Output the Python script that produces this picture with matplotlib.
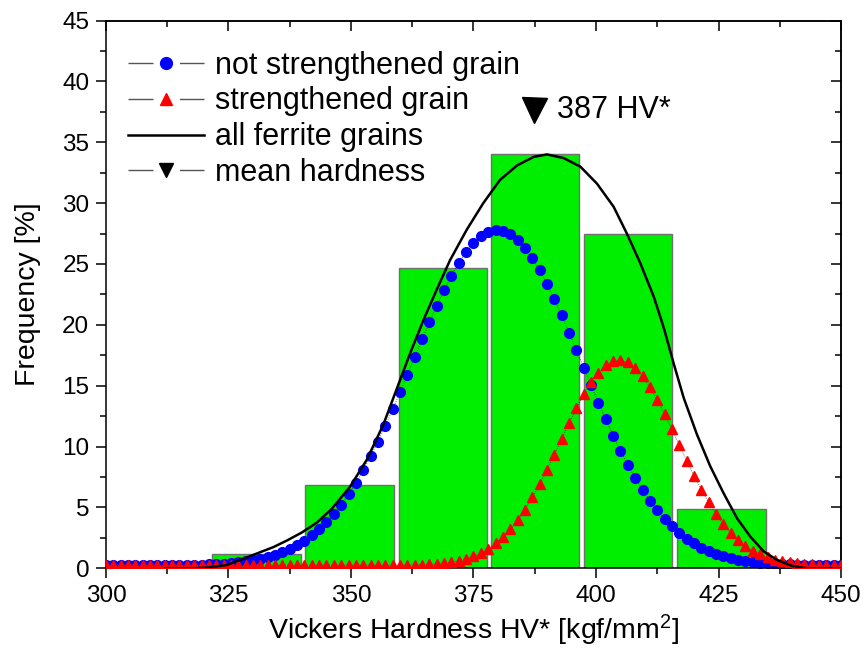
import numpy as np
import matplotlib.pyplot as plt
from matplotlib.lines import Line2D
from matplotlib.ticker import MultipleLocator, NullFormatter
from matplotlib.legend_handler import HandlerTuple

plt.rcParams['font.family'] = ['Liberation Sans', 'DejaVu Sans']
plt.rcParams['mathtext.fontset'] = 'custom'
plt.rcParams['mathtext.rm'] = 'Liberation Sans'
plt.rcParams['mathtext.it'] = 'Liberation Sans:italic'
plt.rcParams['mathtext.bf'] = 'Liberation Sans:bold'

# histogram of measured hardness
bin_centers = [330.7, 349.7, 368.7, 387.6, 406.6, 425.6]
bin_freq = [1.17, 6.84, 24.65, 34.04, 27.44, 4.87]
bin_width = 18.0

# fitted curves, sampled every 1.5 HV from 300 to 450
fit_x = np.linspace(300, 450, 101)
not_strengthened = [
    0.25, 0.25, 0.25, 0.25, 0.25, 0.25, 0.25, 0.25, 0.26, 0.26,
    0.27, 0.28, 0.30, 0.31, 0.33, 0.36, 0.39, 0.44, 0.50, 0.57,
    0.67, 0.78, 0.93, 1.11, 1.33, 1.59, 1.90, 2.28, 2.71, 3.22,
    3.81, 4.48, 5.24, 6.09, 7.03, 8.07, 9.19, 10.41, 11.69, 13.05,
    14.45, 15.89, 17.35, 18.80, 20.22, 21.58, 22.87, 24.05, 25.11, 26.01,
    26.75, 27.30, 27.65, 27.80, 27.73, 27.46, 26.99, 26.33, 25.49, 24.49,
    23.36, 22.11, 20.77, 19.37, 17.93, 16.47, 15.03, 13.60, 12.23, 10.91,
    9.67, 8.51, 7.43, 6.45, 5.57, 4.77, 4.07, 3.45, 2.91, 2.44,
    2.04, 1.71, 1.43, 1.19, 1.00, 0.84, 0.71, 0.61, 0.53, 0.46,
    0.41, 0.37, 0.34, 0.32, 0.30, 0.29, 0.28, 0.27, 0.26, 0.26,
    0.25]
strengthened = [
    0.25, 0.25, 0.25, 0.25, 0.25, 0.25, 0.25, 0.25, 0.25, 0.25,
    0.25, 0.25, 0.25, 0.25, 0.25, 0.25, 0.25, 0.25, 0.25, 0.25,
    0.25, 0.25, 0.25, 0.25, 0.25, 0.25, 0.25, 0.25, 0.25, 0.25,
    0.25, 0.25, 0.25, 0.25, 0.25, 0.25, 0.25, 0.25, 0.25, 0.25,
    0.26, 0.27, 0.29, 0.31, 0.33, 0.38, 0.44, 0.52, 0.64, 0.79,
    1.00, 1.26, 1.61, 2.04, 2.57, 3.20, 3.96, 4.83, 5.82, 6.92,
    8.10, 9.35, 10.64, 11.92, 13.15, 14.28, 15.27, 16.08, 16.67, 17.01,
    17.10, 16.91, 16.46, 15.78, 14.90, 13.84, 12.66, 11.41, 10.12, 8.85,
    7.62, 6.47, 5.41, 4.47, 3.64, 2.93, 2.34, 1.85, 1.46, 1.15,
    0.91, 0.72, 0.58, 0.48, 0.41, 0.36, 0.32, 0.30, 0.28, 0.27,
    0.26]

# all ferrite grains curve
all_x = [312.0, 318.0, 321.0, 324.6, 329.4, 334.2, 337.0, 340.0, 343.0, 346.0,
         349.8, 353.2, 356.6, 359.3, 362.1, 364.8, 367.5, 370.2, 373.6, 377.0,
         380.4, 383.9, 387.3, 390.0, 393.4, 396.8, 400.2, 403.6, 406.3, 409.0,
         411.8, 413.8, 415.8, 417.9, 420.6, 423.3, 426.0, 428.8, 431.5, 434.2,
         436.9, 440.0, 443.0, 450.0]
all_y = [0.0, 0.0, 0.08, 0.27, 1.0, 1.75, 2.3, 2.95, 3.75, 4.85,
         6.7, 8.9, 11.8, 14.7, 17.7, 20.4, 22.9, 25.3, 27.8, 30.0,
         31.9, 33.1, 33.8, 34.0, 33.7, 33.0, 31.6, 29.7, 27.5, 25.1,
         22.3, 19.8, 16.9, 14.0, 11.0, 8.4, 6.2, 4.1, 2.6, 1.4,
         0.7, 0.2, 0.0, 0.0]

mean_hv = 387.3
mean_level = 37.66
mean_label = '387 HV*'

labels = ['not strengthened grain', 'strengthened grain',
          'all ferrite grains', 'mean hardness']

fig = plt.figure(figsize=(8.68, 6.49), dpi=100)
ax = fig.add_axes([0.1221, 0.1243, 0.8468, 0.8441])

ax.bar(bin_centers, bin_freq, width=bin_width, color='#00ee00',
       edgecolor='#707070', linewidth=1.0, zorder=1)
ax.plot(fit_x, not_strengthened, ls=':', lw=0.6, color='#333333', marker='o',
        ms=7, mfc='blue', mec='blue', zorder=2)
ax.plot(fit_x, strengthened, ls=':', lw=0.6, color='#333333', marker='^',
        ms=7.5, mfc='red', mec='red', zorder=3)
ax.plot(all_x, all_y, color='black', lw=1.8, zorder=4)

ax.plot([mean_hv], [mean_level], marker='v', ms=18, color='black', ls='none', zorder=5)
ax.text(392.1, mean_level, mean_label, fontsize=22, va='center', ha='left')

ax.set_xlim(300, 450)
ax.set_ylim(0, 45)
ax.xaxis.set_major_locator(MultipleLocator(25))
ax.xaxis.set_minor_locator(MultipleLocator(12.5))
ax.yaxis.set_major_locator(MultipleLocator(5))
ax.yaxis.set_minor_locator(MultipleLocator(2.5))
ax.tick_params(which='both', direction='out', width=1.1, top=False, right=False)
ax.tick_params(which='major', length=7, labelsize=17.5)
ax.tick_params(axis='x', which='major', pad=5)
ax.tick_params(axis='y', which='major', pad=5)
ax.tick_params(which='minor', length=4)
for sp in ax.spines.values():
    sp.set_linewidth(1.1)

secx = ax.secondary_xaxis('top')
secx.xaxis.set_major_locator(MultipleLocator(25))
secx.xaxis.set_minor_locator(MultipleLocator(12.5))
secx.xaxis.set_major_formatter(NullFormatter())
secx.tick_params(which='both', direction='in', width=1.1)
secx.tick_params(which='major', length=7)
secx.tick_params(which='minor', length=4)
secy = ax.secondary_yaxis('right')
secy.yaxis.set_major_locator(MultipleLocator(5))
secy.yaxis.set_minor_locator(MultipleLocator(2.5))
secy.yaxis.set_major_formatter(NullFormatter())
secy.tick_params(which='both', direction='in', width=1.1)
secy.tick_params(which='major', length=7)
secy.tick_params(which='minor', length=4)
for s in (secx, secy):
    for sp in s.spines.values():
        sp.set_linewidth(1.1)

ax.set_xlabel('Vickers Hardness HV* [kgf/mm$^2$]', fontsize=20.5, labelpad=4)
ax.set_ylabel('Frequency [%]', fontsize=20.5, labelpad=15)

# legend: grey line pieces with a gap around the symbol
gap = Line2D([], [], color='#555555', lw=1.0, dashes=(18, 19))
h_blue = (gap, Line2D([], [], ls='none', marker='o', ms=8.5, color='blue'))
h_red = (gap, Line2D([], [], ls='none', marker='^', ms=9, color='red'))
h_black = Line2D([], [], color='black', lw=1.8)
h_mean = (gap, Line2D([], [], ls='none', marker='v', ms=10, color='black'))
ax.legend([h_blue, h_red, h_black, h_mean], labels,
          handler_map={tuple: HandlerTuple()},
          loc='upper left', bbox_to_anchor=(0.03, 0.945), frameon=False,
          fontsize=22, handlelength=2.5, handletextpad=0.33,
          labelspacing=0.19, borderpad=0, borderaxespad=0)

fig.savefig('out.png', dpi=100)
